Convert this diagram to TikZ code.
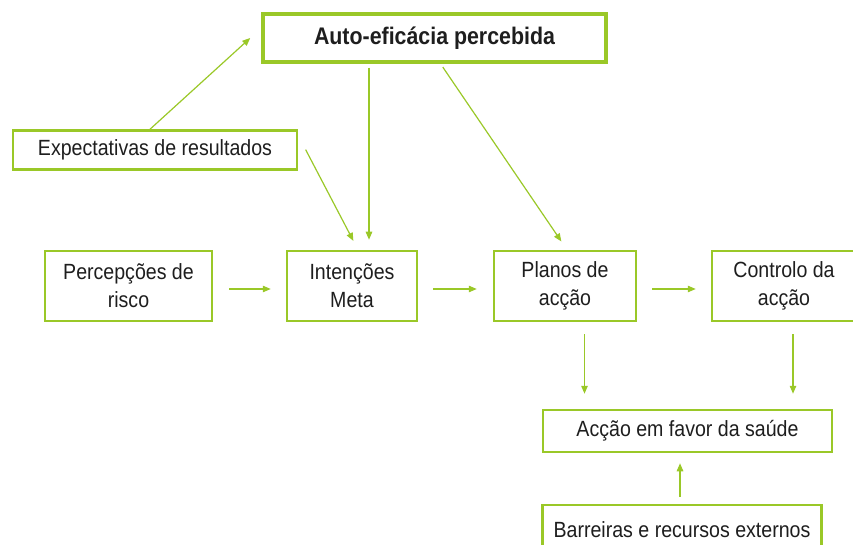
\documentclass[tikz,border=0pt]{standalone}
\usepackage{fontspec}
\setmainfont[FakeStretch=0.89]{Liberation Sans}
\usepackage{tikz}
\usetikzlibrary{
    arrows.meta,
    calc
}
\usepackage{xcolor}
\definecolor{leafgreen}{RGB}{154,200,40}
\definecolor{inkgray}{RGB}{30,30,30}

\begin{document}
\begin{tikzpicture}[x=1pt, y=-1pt,
    box/.style={draw=leafgreen, line width=2.5pt, fill=white, inner sep=0pt,
        align=center, text=inkgray, font=\fontsize{22}{28}\selectfont},
    link/.style={draw=leafgreen, line width=1.2pt,
        -{Triangle[length=8pt,width=6.5pt]}, leafgreen}
]
    % Canvas of the reference
    \useasboundingbox (0,0) rectangle (853,545);

    % Boxes
    \node[box, line width=3.5pt, minimum width=343pt, minimum height=48pt,
        font=\fontsize{24}{28}\selectfont\bfseries] (auto) at (434.5,38) {Auto-eficácia percebida};
    \node[box, minimum width=284pt, minimum height=39pt] (expect) at (155,150) {Expectativas de resultados};
    \node[box, minimum width=167pt, minimum height=70pt] (percep) at (128.5,286) {Percepções de\\risco};
    \node[box, minimum width=130pt, minimum height=70pt] (intent) at (352,286) {Intenções\\Meta};
    \node[box, minimum width=142pt, minimum height=70pt] (plans) at (565,286) {Planos de\\acção};
    \node[box, minimum width=144pt, minimum height=70pt] (control) at (784,286) {Controlo da\\acção};
    \node[box, minimum width=289pt, minimum height=42pt] (health) at (687.5,431) {Acção em favor da saúde};
    \node[box, minimum width=279pt, minimum height=50pt] (barriers) at (682,530) {Barreiras e recursos externos};

    % Arrow ends
    \coordinate (intentA) at ([xshift=17pt]intent.north);
    \coordinate (healthA) at ([xshift=-103pt]health.north);
    \coordinate (healthB) at ([xshift=105.5pt]health.north);
    \coordinate (healthC) at ([xshift=-7.5pt]health.south);

    % Connectors
    \draw[link] ([xshift=-5pt]expect.north) -- ([xshift=-11pt]auto.west);
    \draw[link, shorten <=3pt, shorten >=10pt] ([xshift=6pt,yshift=3pt]expect.east) -- ([xshift=6pt]intent.north);
    \draw[link, shorten <=4pt, shorten >=10pt] (auto.south -| intentA) -- (intentA);
    \draw[link, shorten <=4pt, shorten >=10pt] ([xshift=6pt]auto.south) -- ([xshift=2pt]plans.north);
    \draw[link, shorten <=16pt, shorten >=15pt] ([yshift=-3pt]percep.east) -- ([yshift=-3pt]intent.west);
    \draw[link, shorten <=15pt, shorten >=16pt] ([yshift=-3pt]intent.east) -- ([yshift=-3pt]plans.west);
    \draw[link, shorten <=15pt, shorten >=15pt] ([yshift=-3pt]plans.east) -- ([yshift=-3pt]control.west);
    \draw[link, shorten <=12pt, shorten >=15pt] (plans.south -| healthA) -- (healthA);
    \draw[link, shorten <=12pt, shorten >=15pt] (control.south -| healthB) -- (healthB);
    \draw[link, shorten <=7pt, shorten >=10pt] (barriers.north -| healthC) -- (healthC);

\end{tikzpicture}
\end{document}
